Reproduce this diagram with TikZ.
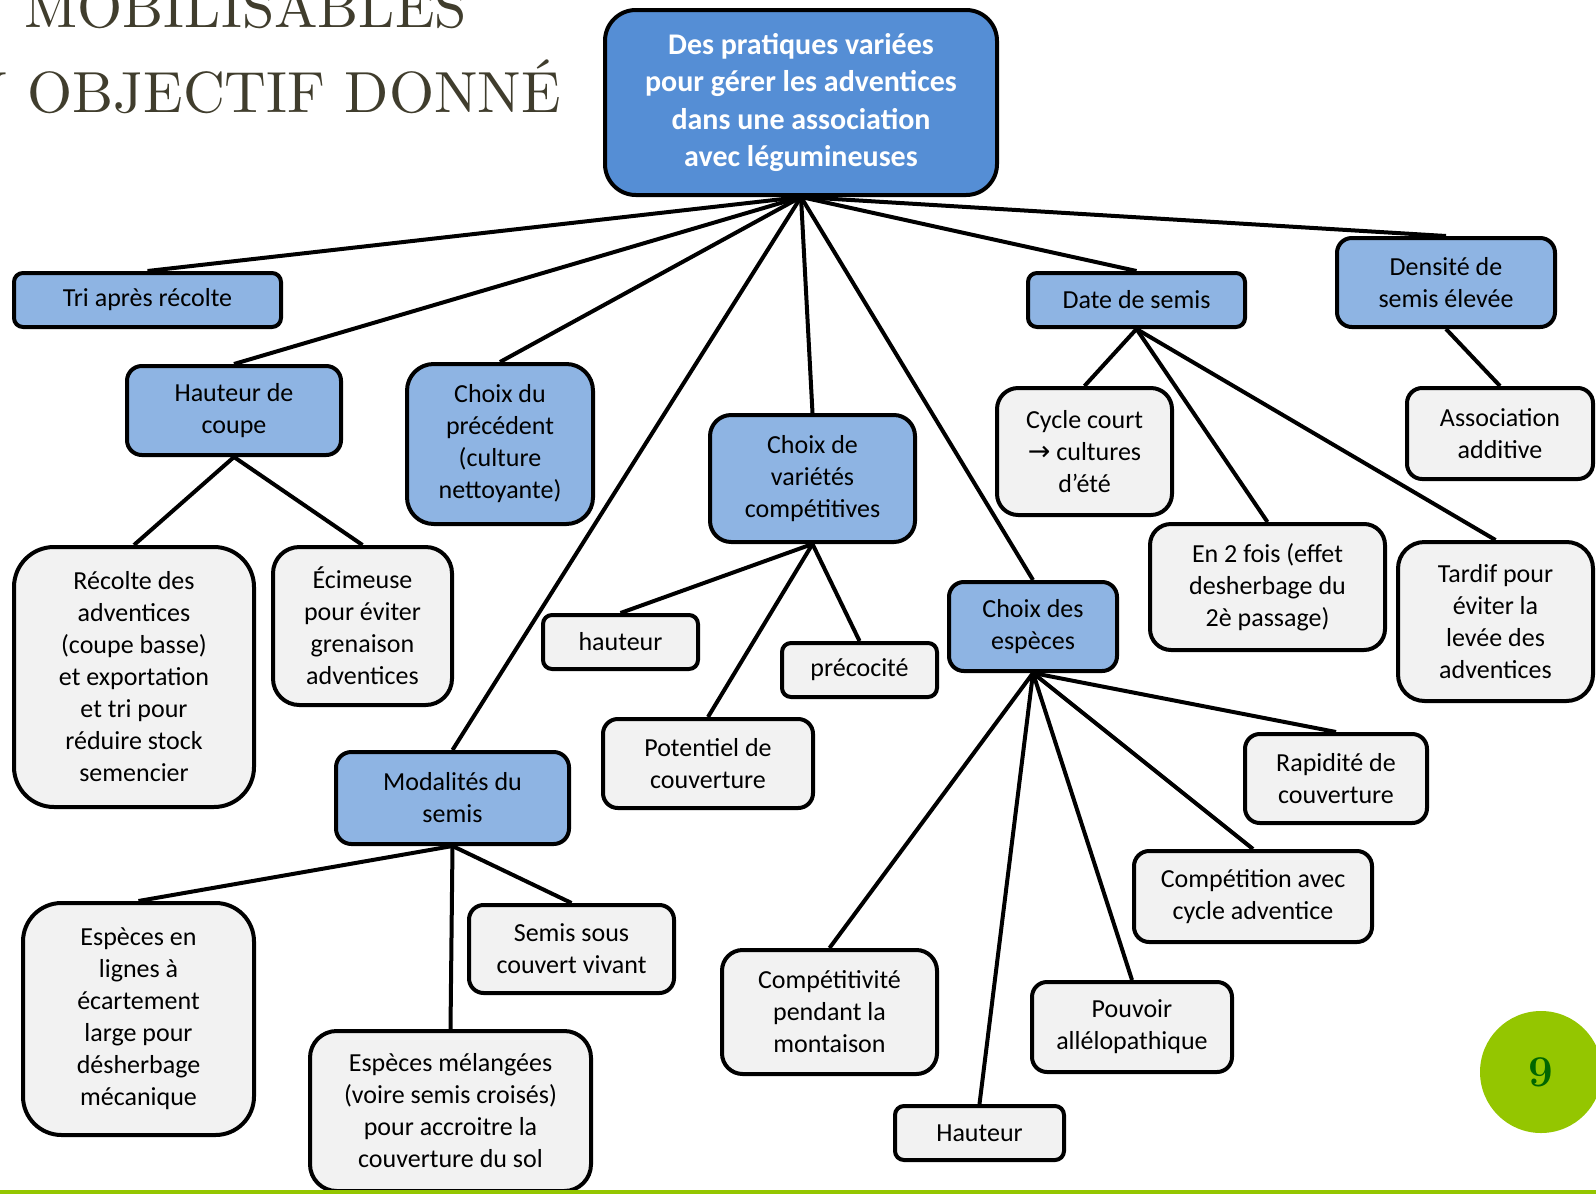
\documentclass[tikz,border=0pt]{standalone}
\usepackage{fontspec}
\setsansfont{Carlito}
\newfontfamily\dvsans{DejaVu Sans}
\definecolor{boxblue}{RGB}{142,180,227}
\definecolor{rootblue}{RGB}{85,142,213}
\definecolor{boxgray}{RGB}{242,242,242}
\definecolor{titlecol}{RGB}{64,61,45}
\definecolor{limegreen}{RGB}{148,198,0}
\definecolor{pagegreen}{RGB}{0,102,0}
\newcommand\mkbox[7]{%
  \pgfmathsetmacro\bw{#4-#2}%
  \pgfmathsetmacro\bh{#5-#3}%
  \pgfmathsetmacro\br{0.1667*min(#4-#2,#5-#3)}%
  \node[#6, minimum width=\bw pt, minimum height=\bh pt, rounded corners=\br pt] (#1) at ({(#2+#4)/2},{(#3+#5)/2}) {#7};}
\begin{document}
\begin{tikzpicture}[x=1pt,y=-1pt,
  base/.style={draw=black, line width=4pt, inner sep=0pt, align=center,
    font=\sffamily\fontsize{26}{32}\selectfont},
  bluebox/.style={base, fill=boxblue},
  graybox/.style={base, fill=boxgray},
  rootbox/.style={base, fill=rootblue, text=white,
    font=\sffamily\bfseries\fontsize{30}{37.5}\selectfont},
  titletext/.style={anchor=base east, inner sep=0pt, text=titlecol, scale=5.8,
    transform shape, font=\rmfamily\fontsize{10}{12}\selectfont},
  link/.style={line width=4pt, black}]
\useasboundingbox (0,0) rectangle (1596,1194);
\fill[white] (0,0) rectangle (1596,1194);
% title
\node[titletext] (t1) at (468,27) {MOBILISABLES};
\node[titletext] (t2) at (562,112) {N OBJECTIF DONNÉ};
% boxes
\mkbox{root}{605}{10}{997}{195}{rootbox}{Des pratiques variées\\pour gérer les adventices\\dans une association\\avec légumineuses}
\mkbox{tri}{14}{273}{281}{327}{bluebox}{Tri après récolte}
\mkbox{hc}{127}{366}{341}{455}{bluebox}{Hauteur de\\coupe}
\mkbox{prec}{407}{364}{593}{524}{bluebox}{Choix du\\précédent\\(culture\\nettoyante)}
\mkbox{var}{710}{415}{915}{542}{bluebox}{Choix de\\variétés\\compétitives}
\mkbox{date}{1028}{273}{1245}{327}{bluebox}{Date de semis}
\mkbox{dens}{1337}{238}{1555}{327}{bluebox}{Densité de\\semis élevée}
\mkbox{cyc}{997}{388}{1172}{515}{graybox}{Cycle court\\{\dvsans\fontsize{27}{32}\selectfont →} cultures\\d’été}
\mkbox{assoc}{1407}{388}{1593}{479}{graybox}{Association\\additive}
\mkbox{entwo}{1150}{524}{1385}{650}{graybox}{En 2 fois (effet\\desherbage du\\2è passage)}
\mkbox{tard}{1398}{542}{1593}{701}{graybox}{Tardif pour\\éviter la\\levée des\\adventices}
\mkbox{esp}{949}{582}{1117}{671}{bluebox}{Choix des\\espèces}
\mkbox{rec}{14}{547}{254}{807}{graybox}{Récolte des\\adventices\\(coupe basse)\\et exportation\\et tri pour\\réduire stock\\semencier}
\mkbox{eci}{273}{547}{452}{705}{graybox}{Écimeuse\\pour éviter\\grenaison\\adventices}
\mkbox{hau}{543}{615}{698}{669}{graybox}{hauteur}
\mkbox{preco}{782}{643}{937}{697}{graybox}{précocité}
\mkbox{pot}{603}{719}{813}{808}{graybox}{Potentiel de\\couverture}
\mkbox{mod}{336}{752}{569}{844}{bluebox}{Modalités du\\semis}
\mkbox{rap}{1245}{734}{1427}{823}{graybox}{Rapidité de\\couverture}
\mkbox{comp}{1134}{851}{1372}{942}{graybox}{Compétition avec\\cycle adventice}
\mkbox{cmt}{722}{950}{937}{1074}{graybox}{Compétitivité\\pendant la\\montaison}
\mkbox{pouv}{1032}{982}{1232}{1072}{graybox}{Pouvoir\\allélopathique}
\mkbox{haut}{895}{1106}{1064}{1160}{graybox}{Hauteur}
\mkbox{lig}{23}{903}{254}{1135}{graybox}{Espèces en\\lignes à\\écartement\\large pour\\désherbage\\mécanique}
\mkbox{sous}{469}{905}{674}{993}{graybox}{Semis sous\\couvert vivant}
\mkbox{mel}{310}{1031}{591}{1191}{graybox}{Espèces mélangées\\(voire semis croisés)\\pour accroitre la\\couverture du sol}
% connectors
\foreach \c in {tri,hc,prec,var,mod,esp,date,dens}
  \draw[link] (root.south) -- (\c.north);
\foreach \c in {rec,eci}
  \draw[link] (hc.south) -- (\c.north);
\foreach \c in {hau,preco,pot}
  \draw[link] (var.south) -- (\c.north);
\foreach \c in {cyc,entwo,tard}
  \draw[link] (date.south) -- (\c.north);
\draw[link] (dens.south) -- (assoc.north);
\foreach \c in {rap,comp,pouv,haut,cmt}
  \draw[link] (esp.south) -- (\c.north);
\foreach \c in {lig,sous,mel}
  \draw[link] (mod.south) -- (\c.north);
% bottom band and page number
\fill[limegreen] (0,1190) rectangle (1596,1194);
\node[circle, fill=limegreen, minimum size=122pt, inner sep=0pt, text=pagegreen,
  font=\rmfamily\bfseries\fontsize{44}{50}\selectfont] (pg) at (1541,1072) {9};
\end{tikzpicture}
\end{document}
